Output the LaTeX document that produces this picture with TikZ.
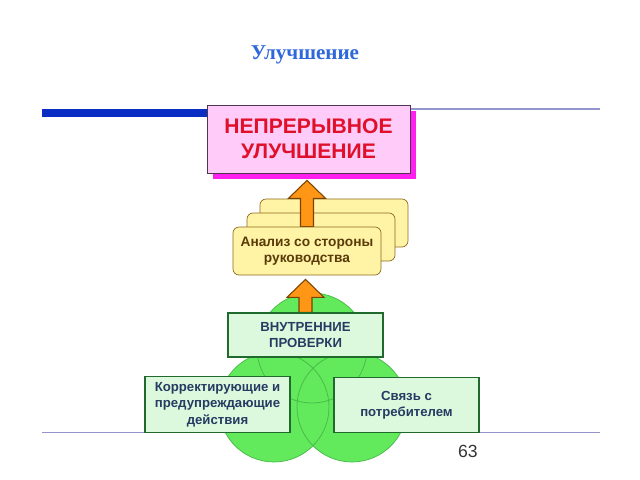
\documentclass[tikz,border=0pt]{standalone}
\usepackage{fontspec}
\setmainfont{Liberation Sans}
\newfontfamily\titlefont{Liberation Serif}
\usepackage{tikz}
\usetikzlibrary{shapes.geometric, arrows, shadows, calc}

\definecolor{titleblue}{HTML}{2E68DC}
\definecolor{barblue}{HTML}{0A2EC4}
\definecolor{rulegray}{HTML}{9494CC}
\definecolor{pinkfill}{HTML}{FFCCFA}
\definecolor{pinkshade}{HTML}{FF1FEF}
\definecolor{pinkline}{HTML}{4E3650}
\definecolor{redtext}{HTML}{E0102A}
\definecolor{yellowfill}{HTML}{FFF3A6}
\definecolor{yellowline}{HTML}{8C6A18}
\definecolor{browntext}{HTML}{5A3A08}
\definecolor{arroworange}{HTML}{FF9616}
\definecolor{arrowline}{HTML}{7A4200}
\definecolor{circlegreen}{HTML}{62E95C}
\definecolor{circleline}{HTML}{46B846}
\definecolor{greenfill}{HTML}{DDF9DD}
\definecolor{greenline}{HTML}{1F6A2C}
\definecolor{navytext}{HTML}{263A62}

\pgfdeclarelayer{back}
\pgfdeclarelayer{mid}
\pgfsetlayers{back,mid,main}

\tikzstyle{pinkbox} = [rectangle, minimum width=4.06cm, minimum height=1.36cm, draw=pinkline, fill=pinkfill, text=redtext, font=\fontsize{12}{14}\selectfont\bfseries, drop shadow={shadow xshift=0.12cm, shadow yshift=-0.12cm, fill=pinkshade, opacity=1}]
\tikzstyle{yellowbox} = [rectangle, rounded corners=0.12cm, minimum width=2.96cm, minimum height=0.96cm, draw=yellowline, fill=yellowfill, text=browntext, font=\fontsize{7.8}{9}\selectfont\bfseries]
\tikzstyle{greenbox} = [rectangle, minimum width=2.9cm, minimum height=1.1cm, draw=greenline, line width=0.8pt, fill=greenfill, text=navytext, font=\fontsize{7.5}{9.3}\selectfont\bfseries]
\tikzstyle{greencircle} = [fill=circlegreen]
\tikzstyle{circleedge} = [draw=circleline, line width=0.4pt]
\tikzstyle{blockarrow} = [draw=arrowline, fill=arroworange, line width=0.6pt]

\newcommand{\blockup}[3]{%
  \draw[blockarrow] let \p1=(#1), \p2=($(#2)+(0,#3)$) in
    (\x1-0.13cm,\y1) -- (\x1-0.13cm,\y2-0.36cm) -- (\x1-0.37cm,\y2-0.36cm) -- (\x1,\y2)
    -- (\x1+0.37cm,\y2-0.36cm) -- (\x1+0.13cm,\y2-0.36cm) -- (\x1+0.13cm,\y1) -- cycle;}

\begin{document}
\begin{tikzpicture}[x=0.02cm, y=-0.02cm, align=center]
      \useasboundingbox (0,0) rectangle (640,480);

      \node (title) [text=titleblue, font=\titlefont\fontsize{12}{14}\selectfont\bfseries] at (305,55) {Улучшение};
      \node (improve) [pinkbox] at (308.5,139) {НЕПРЕРЫВНОЕ\\УЛУЧШЕНИЕ};
      \node (review) [yellowbox] at (307,251) {Анализ со стороны\\руководства};
      \node (inner) [greenbox, minimum width=3.1cm, minimum height=0.88cm] at (305.5,335) {ВНУТРЕННИЕ\\ПРОВЕРКИ};
      \node (actions) [greenbox] at (217.5,404.5) {Корректирующие и\\предупреждающие\\действия};
      \node (customer) [greenbox] at (406.5,405) {Связь с\\потребителем};
      \node (page) [text=black!80, font=\fontsize{10}{12}\selectfont] at (468,451) {63};

      \begin{pgfonlayer}{back}
      \draw [barblue, line width=4pt] (42,113) -- (215,113);
      \draw [rulegray, line width=0.6pt] (215,109) -- (600,109);
      \draw [rulegray, line width=0.9pt] (42,432.5) -- (600,432.5);
      \fill [greencircle] (312,348) circle[radius=1.1cm];
      \fill [greencircle] (274,407) circle[radius=1.1cm];
      \fill [greencircle] (352,407) circle[radius=1.1cm];
      \draw [circleedge] (312,348) circle[radius=1.1cm];
      \draw [circleedge] (274,407) circle[radius=1.1cm];
      \draw [circleedge] (352,407) circle[radius=1.1cm];
      \node (review3) [yellowbox] at ($(review)+(27,-28)$) {};
      \node (review2) [yellowbox] at ($(review)+(14,-14)$) {};
      \end{pgfonlayer}

      \begin{pgfonlayer}{mid}
      \blockup{review.north}{improve.south}{7}
      \blockup{inner.north}{review.south}{4}
      \end{pgfonlayer}
\end{tikzpicture}
\end{document}
